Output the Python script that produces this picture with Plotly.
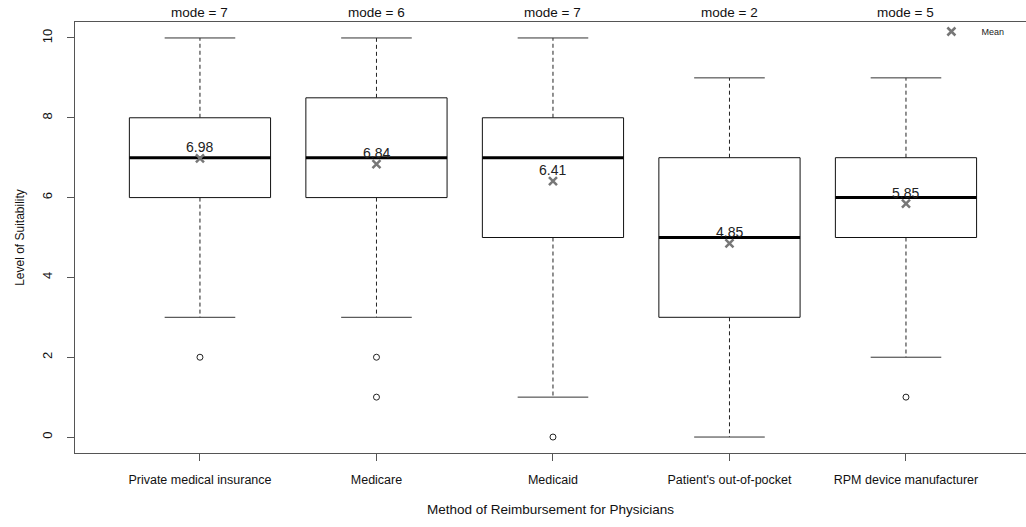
import plotly.graph_objects as go

categories = ["Private medical insurance", "Medicare", "Medicaid",
              "Patient's out-of-pocket", "RPM device manufacturer"]
lower_whisker = [3, 3, 1, 0, 2]
q1 = [6, 6, 5, 3, 5]
median = [7, 7, 7, 5, 6]
q3 = [8, 8.5, 8, 7, 7]
upper_whisker = [10, 10, 10, 9, 9]
means = [6.98, 6.84, 6.41, 4.85, 5.85]
modes = [7, 6, 7, 2, 5]
outliers = [[2], [2, 1], [0], [], [1]]

FONT = "Liberation Sans, Arial, sans-serif"
pos = list(range(1, len(categories) + 1))
hw = 0.4   # half box width
sw = 0.2   # half staple width

bx, by, mx, my, wx, wy, cx, cy, ox, oy = [], [], [], [], [], [], [], [], [], []
for i, c in enumerate(pos):
    bx += [c - hw, c + hw, c + hw, c - hw, c - hw, None]
    by += [q1[i], q1[i], q3[i], q3[i], q1[i], None]
    mx += [c - hw, c + hw, None]
    my += [median[i], median[i], None]
    wx += [c, c, None, c, c, None]
    wy += [q3[i], upper_whisker[i], None, q1[i], lower_whisker[i], None]
    cx += [c - sw, c + sw, None, c - sw, c + sw, None]
    cy += [upper_whisker[i], upper_whisker[i], None, lower_whisker[i], lower_whisker[i], None]
    for o in outliers[i]:
        ox.append(c)
        oy.append(o)

fig = go.Figure()
fig.add_trace(go.Scatter(x=wx, y=wy, mode="lines", line=dict(color="#222", width=1, dash="4px,3px"),
                         showlegend=False, hoverinfo="skip"))
fig.add_trace(go.Scatter(x=cx, y=cy, mode="lines", line=dict(color="#333", width=1),
                         showlegend=False, hoverinfo="skip"))
fig.add_trace(go.Scatter(x=bx, y=by, mode="lines", line=dict(color="#111", width=1),
                         fill="toself", fillcolor="white", showlegend=False, hoverinfo="skip"))
fig.add_trace(go.Scatter(x=mx, y=my, mode="lines", line=dict(color="black", width=3),
                         showlegend=False, hoverinfo="skip"))
fig.add_trace(go.Scatter(x=ox, y=oy, mode="markers",
                         marker=dict(symbol="circle-open", size=6, color="#222", line=dict(width=1)),
                         showlegend=False, hoverinfo="skip"))
fig.add_trace(go.Scatter(x=pos, y=means, mode="markers", name="Mean",
                         marker=dict(symbol="x-thin", size=8, color="#777",
                                     line=dict(width=2.5, color="#777")),
                         showlegend=True, hoverinfo="skip"))

for i, c in enumerate(pos):
    fig.add_annotation(x=c, y=means[i], text=f"{means[i]:.2f}", showarrow=False,
                       yanchor="bottom", yshift=1, font=dict(family=FONT, size=14, color="#222"))
    fig.add_annotation(x=c, y=1, xref="x", yref="paper", text=f"mode = {modes[i]}",
                       showarrow=False, yanchor="bottom", yshift=0,
                       font=dict(family=FONT, size=13.5, color="#111"))

fig.update_layout(
    width=1026, height=527,
    margin=dict(l=75, r=0, t=22, b=74),
    plot_bgcolor="white", paper_bgcolor="white",
    font=dict(family=FONT, size=13, color="#111"),
    legend=dict(x=0.89, y=1.0116, xanchor="left", yanchor="top", bgcolor="rgba(0,0,0,0)",
                font=dict(family=FONT, size=9, color="#222"), itemwidth=50),
    xaxis=dict(range=[0.292, 5.68], tickvals=pos, ticktext=categories, showgrid=False,
               zeroline=False, showline=True, mirror=True, linecolor="#555", linewidth=1,
               ticks="outside", ticklen=7, tickcolor="#555", ticklabelstandoff=8,
               tickfont=dict(family=FONT, size=12.5, color="#111"),
               title=dict(text="Method of Reimbursement for Physicians", standoff=18,
                          font=dict(family=FONT, size=13.5, color="#111"))),
    yaxis=dict(range=[-0.4, 10.4], tickvals=[0, 2, 4, 6, 8, 10], showgrid=False,
               zeroline=False, showline=True, mirror=False, linecolor="#555", linewidth=1,
               ticks="outside", ticklen=7, tickcolor="#555", tickangle=-90, ticklabelstandoff=10,
               tickfont=dict(family=FONT, size=13, color="#111"),
               title=dict(text="Level of Suitability", standoff=12,
                          font=dict(family=FONT, size=12, color="#111"))),
)

fig.write_html("out.html")
